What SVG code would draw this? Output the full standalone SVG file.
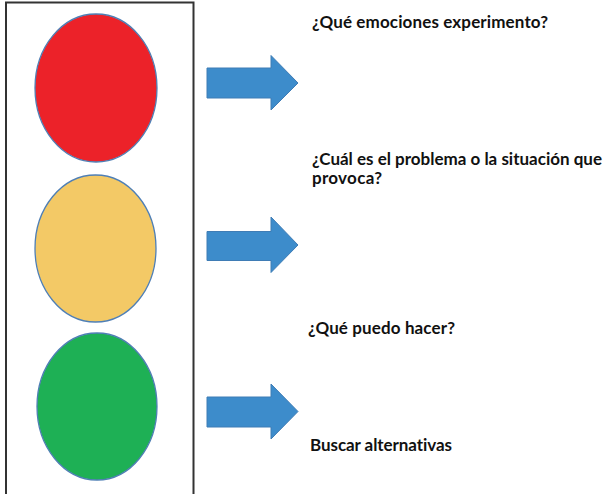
<svg xmlns="http://www.w3.org/2000/svg" width="604" height="494" viewBox="0 0 604 494">
<style>
.light{stroke:#4f7fb5;stroke-width:1.3}
.arrow{fill:#3d8ccb;stroke:#3f7cb5;stroke-width:1}
.t{font-family:Lato,"Open Sans","Liberation Sans",sans-serif;font-weight:bold;font-size:17px;fill:#111;font-variant-ligatures:none}
</style>
<rect width="604" height="494" fill="#ffffff"/>
<g id="frame"><rect x="6" y="2.5" width="187.5" height="500" fill="none" stroke="#333" stroke-width="2"/></g>
<g id="red"><ellipse class="light" cx="96" cy="88" rx="61" ry="74" fill="#ec2229"/></g>
<g id="yellow"><ellipse class="light" cx="95.5" cy="248.5" rx="60.5" ry="73.5" fill="#f3c966"/></g>
<g id="green"><ellipse class="light" cx="97" cy="406.5" rx="60" ry="73.5" fill="#1eb055"/></g>
<g id="connectors">
<path class="arrow" d="M207 68 H271 V55.5 L298 83 L271 110 V98 H207 Z"/>
<path class="arrow" d="M207 231.5 H271 V217 L298 245 L271 272.5 V260.5 H207 Z"/>
<path class="arrow" d="M207 397 H271 V384 L298 411.5 L271 439 V427 H207 Z"/>
</g>
<g id="q1"><text class="t" x="312" y="28" textLength="236">¿Qué emociones experimento?</text></g>
<g id="q2"><text class="t" x="312" y="165" textLength="290">¿Cuál es el problema o la situación que</text><text class="t" x="312" y="184" textLength="70">provoca?</text></g>
<g id="q3"><text class="t" x="308" y="334" textLength="147">¿Qué puedo hacer?</text></g>
<g id="a3"><text class="t" x="310" y="451" textLength="142">Buscar alternativas</text></g>
</svg>
